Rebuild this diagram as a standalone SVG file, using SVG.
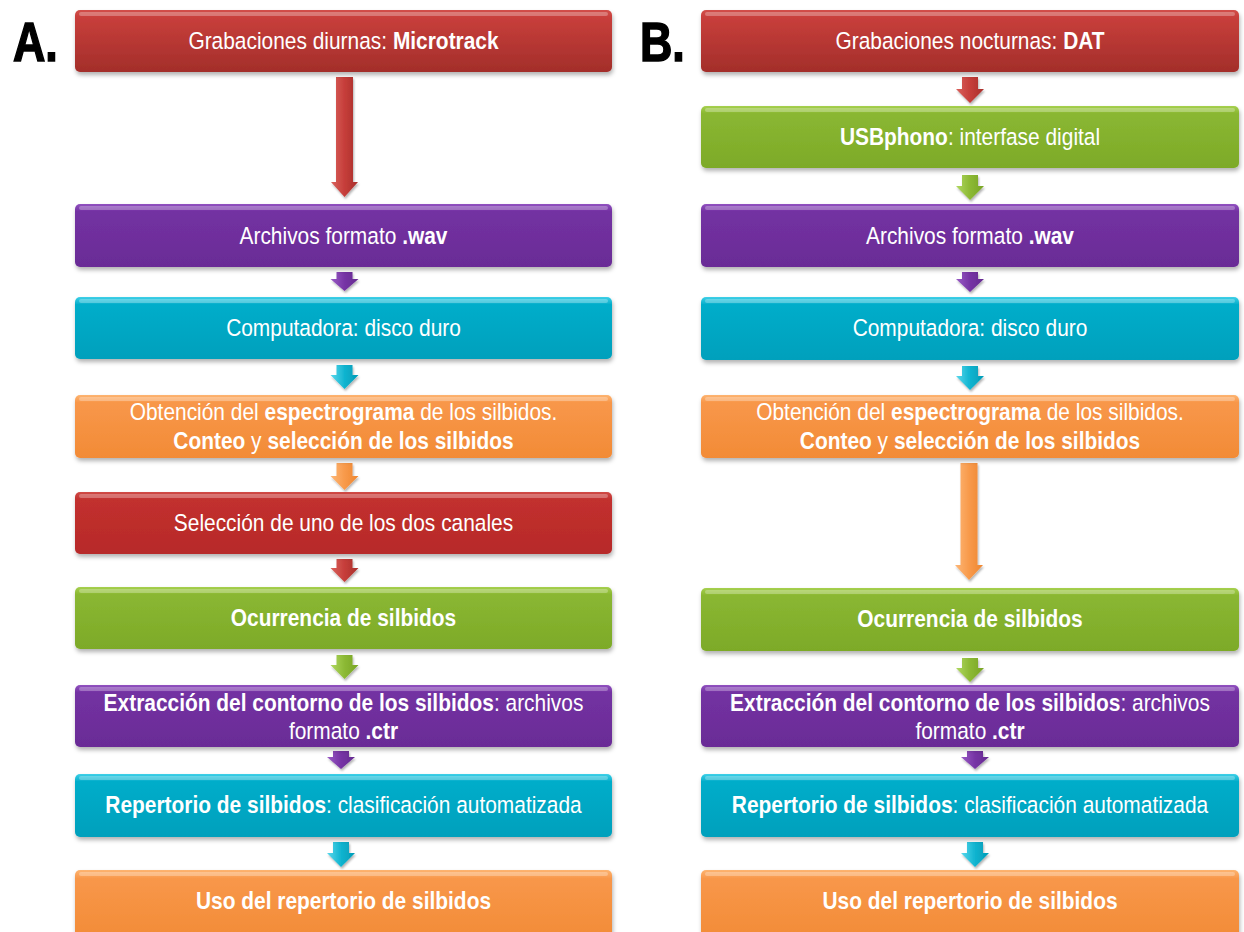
<svg xmlns="http://www.w3.org/2000/svg" width="1244" height="932" viewBox="0 0 1244 932">
<defs>
<style>
.lbl{font-family:"Liberation Sans",Arial,sans-serif;font-size:23.5px;fill:#fff;text-anchor:middle}
.b{font-weight:700}
.hd{font-family:"Liberation Sans",Arial,sans-serif;font-size:56px;font-weight:700;fill:#000;stroke:#000;stroke-width:1.6}
.hl{fill:#fff;fill-opacity:0.28}
.box{filter:url(#sh)}
.arr{filter:url(#ash)}
</style>
<filter id="sh" x="-5%" y="-20%" width="110%" height="150%">
<feDropShadow dx="1" dy="3" stdDeviation="2" flood-color="#000" flood-opacity="0.3"/>
</filter>
<filter id="ash" x="-50%" y="-20%" width="200%" height="150%">
<feDropShadow dx="1" dy="2" stdDeviation="1.2" flood-color="#000" flood-opacity="0.3"/>
</filter>
<linearGradient id="gRed" x1="0" y1="0" x2="0" y2="1">
<stop offset="0" stop-color="#D24F4A"/><stop offset="0.12" stop-color="#C83F3B"/><stop offset="1" stop-color="#A32E2A"/>
</linearGradient>
<linearGradient id="gRed2" x1="0" y1="0" x2="0" y2="1">
<stop offset="0" stop-color="#D04A46"/><stop offset="0.12" stop-color="#C2302E"/><stop offset="1" stop-color="#B72A29"/>
</linearGradient>
<linearGradient id="gPur" x1="0" y1="0" x2="0" y2="1">
<stop offset="0" stop-color="#9152C0"/><stop offset="0.12" stop-color="#7331A2"/><stop offset="1" stop-color="#6A2C96"/>
</linearGradient>
<linearGradient id="gCya" x1="0" y1="0" x2="0" y2="1">
<stop offset="0" stop-color="#3FD0E8"/><stop offset="0.12" stop-color="#04ADCA"/><stop offset="1" stop-color="#00A0BC"/>
</linearGradient>
<linearGradient id="gOra" x1="0" y1="0" x2="0" y2="1">
<stop offset="0" stop-color="#FDB471"/><stop offset="0.12" stop-color="#F8974A"/><stop offset="1" stop-color="#F28B36"/>
</linearGradient>
<linearGradient id="gGre" x1="0" y1="0" x2="0" y2="1">
<stop offset="0" stop-color="#A6D04E"/><stop offset="0.12" stop-color="#8AB732"/><stop offset="1" stop-color="#7DAA28"/>
</linearGradient>
<linearGradient id="aRed" x1="0" y1="0" x2="1" y2="0">
<stop offset="0" stop-color="#D9625D"/><stop offset="0.5" stop-color="#C63E3A"/><stop offset="1" stop-color="#A82F2B"/>
</linearGradient>
<linearGradient id="aPur" x1="0" y1="0" x2="1" y2="0">
<stop offset="0" stop-color="#9A5CC6"/><stop offset="0.5" stop-color="#7634A5"/><stop offset="1" stop-color="#652A90"/>
</linearGradient>
<linearGradient id="aCya" x1="0" y1="0" x2="1" y2="0">
<stop offset="0" stop-color="#5AD8EC"/><stop offset="0.5" stop-color="#10B4D0"/><stop offset="1" stop-color="#009BB6"/>
</linearGradient>
<linearGradient id="aOra" x1="0" y1="0" x2="1" y2="0">
<stop offset="0" stop-color="#FDB777"/><stop offset="0.5" stop-color="#F89A4B"/><stop offset="1" stop-color="#EE8630"/>
</linearGradient>
<linearGradient id="aGre" x1="0" y1="0" x2="1" y2="0">
<stop offset="0" stop-color="#B0D862"/><stop offset="0.5" stop-color="#8CB934"/><stop offset="1" stop-color="#78A425"/>
</linearGradient>
</defs>
<rect width="1244" height="932" fill="#fff"/>

<text class="hd" transform="translate(13,61) scale(0.8,1)">A.</text>
<text class="hd" transform="translate(640,61) scale(0.8,1)">B.</text>

<g id="connectors">
<path class="arr" fill="url(#aRed)" d="M336 77H353V182H358L344.5 197L331 182H336Z"/>
<path class="arr" fill="url(#aPur)" d="M336.5 272H352.5V279H358.5L344.5 291L330.5 279H336.5Z"/>
<path class="arr" fill="url(#aCya)" d="M336.5 365H352.5V375H358.5L344.5 389L330.5 375H336.5Z"/>
<path class="arr" fill="url(#aOra)" d="M336.5 463H352.5V476H358.5L344.5 490L330.5 476H336.5Z"/>
<path class="arr" fill="url(#aRed)" d="M336.5 559H352.5V568H358.5L344.5 582L330.5 568H336.5Z"/>
<path class="arr" fill="url(#aGre)" d="M336.5 655H352.5V665H358.5L344.5 679L330.5 665H336.5Z"/>
<path class="arr" fill="url(#aPur)" d="M333 751H349V757H355L341 769L327 757H333Z"/>
<path class="arr" fill="url(#aCya)" d="M333 842H349V853H355L341 867L327 853H333Z"/>

<path class="arr" fill="url(#aRed)" d="M962 77H978V89H984L970 103L956 89H962Z"/>
<path class="arr" fill="url(#aGre)" d="M962 175H978V186H984L970 200L956 186H962Z"/>
<path class="arr" fill="url(#aPur)" d="M962 272H978V279H984L970 292L956 279H962Z"/>
<path class="arr" fill="url(#aCya)" d="M962 366H978V376H984L970 390L956 376H962Z"/>
<path class="arr" fill="url(#aOra)" d="M960.5 463H977.5V565H983L969 580L955 565H960.5Z"/>
<path class="arr" fill="url(#aGre)" d="M962 658H978V668H984L970 682L956 668H962Z"/>
<path class="arr" fill="url(#aPur)" d="M967 751H983V757H989L975 769L961 757H967Z"/>
<path class="arr" fill="url(#aCya)" d="M967 842H983V853H989L975 867L961 853H967Z"/>
</g>

<!-- Left column -->
<g id="A1">
<rect class="box" x="75" y="10" width="537" height="62" rx="5" fill="url(#gRed)"/>
<rect class="hl" x="79" y="12" width="529" height="4" rx="2"/>
<text class="lbl" transform="translate(343.5,49) scale(0.89,1)">Grabaciones diurnas: <tspan class="b">Microtrack</tspan></text>
</g>
<g id="A2">
<rect class="box" x="75" y="204" width="537" height="63" rx="5" fill="url(#gPur)"/>
<rect class="hl" x="79" y="206" width="529" height="4" rx="2"/>
<text class="lbl" transform="translate(343.5,244) scale(0.89,1)">Archivos formato <tspan class="b">.wav</tspan></text>
</g>
<g id="A3">
<rect class="box" x="75" y="297" width="537" height="62" rx="5" fill="url(#gCya)"/>
<rect class="hl" x="79" y="299" width="529" height="4" rx="2"/>
<text class="lbl" transform="translate(343.5,336) scale(0.89,1)">Computadora: disco duro</text>
</g>
<g id="A4">
<rect class="box" x="75" y="395" width="537" height="63" rx="5" fill="url(#gOra)"/>
<rect class="hl" x="79" y="397" width="529" height="4" rx="2"/>
<text class="lbl" transform="translate(343.5,420) scale(0.89,1)">Obtención del <tspan class="b">espectrograma</tspan> de los silbidos.</text>
<text class="lbl" transform="translate(343.5,449) scale(0.89,1)"><tspan class="b">Conteo</tspan> y <tspan class="b">selección de los silbidos</tspan></text>
</g>
<g id="A5">
<rect class="box" x="75" y="492" width="537" height="62" rx="5" fill="url(#gRed2)"/>
<rect class="hl" x="79" y="494" width="529" height="4" rx="2"/>
<text class="lbl" transform="translate(343.5,531) scale(0.89,1)">Selección de uno de los dos canales</text>
</g>
<g id="A6">
<rect class="box" x="75" y="587" width="537" height="62" rx="5" fill="url(#gGre)"/>
<rect class="hl" x="79" y="589" width="529" height="4" rx="2"/>
<text class="lbl" transform="translate(343.5,626) scale(0.89,1)"><tspan class="b">Ocurrencia de silbidos</tspan></text>
</g>
<g id="A7">
<rect class="box" x="75" y="685" width="537" height="62" rx="5" fill="url(#gPur)"/>
<rect class="hl" x="79" y="687" width="529" height="4" rx="2"/>
<text class="lbl" transform="translate(343.5,711) scale(0.89,1)"><tspan class="b">Extracción del contorno de los silbidos</tspan>: archivos</text>
<text class="lbl" transform="translate(343.5,739) scale(0.89,1)">formato <tspan class="b">.ctr</tspan></text>
</g>
<g id="A8">
<rect class="box" x="75" y="774" width="537" height="63" rx="5" fill="url(#gCya)"/>
<rect class="hl" x="79" y="776" width="529" height="4" rx="2"/>
<text class="lbl" transform="translate(343.5,813) scale(0.89,1)"><tspan class="b">Repertorio de silbidos</tspan>: clasificación automatizada</text>
</g>
<g id="A9">
<rect class="box" x="75" y="870" width="537" height="72" rx="5" fill="url(#gOra)"/>
<rect class="hl" x="79" y="872" width="529" height="4" rx="2"/>
<text class="lbl" transform="translate(343.5,909) scale(0.89,1)"><tspan class="b">Uso del repertorio de silbidos</tspan></text>
</g>

<!-- Right column -->
<g id="B1">
<rect class="box" x="701" y="10" width="538" height="62" rx="5" fill="url(#gRed)"/>
<rect class="hl" x="705" y="12" width="530" height="4" rx="2"/>
<text class="lbl" transform="translate(970,49) scale(0.89,1)">Grabaciones nocturnas: <tspan class="b">DAT</tspan></text>
</g>
<g id="B2">
<rect class="box" x="701" y="106" width="538" height="62" rx="5" fill="url(#gGre)"/>
<rect class="hl" x="705" y="108" width="530" height="4" rx="2"/>
<text class="lbl" transform="translate(970,145) scale(0.89,1)"><tspan class="b">USBphono</tspan>: interfase digital</text>
</g>
<g id="B3">
<rect class="box" x="701" y="204" width="538" height="63" rx="5" fill="url(#gPur)"/>
<rect class="hl" x="705" y="206" width="530" height="4" rx="2"/>
<text class="lbl" transform="translate(970,244) scale(0.89,1)">Archivos formato <tspan class="b">.wav</tspan></text>
</g>
<g id="B4">
<rect class="box" x="701" y="297" width="538" height="63" rx="5" fill="url(#gCya)"/>
<rect class="hl" x="705" y="299" width="530" height="4" rx="2"/>
<text class="lbl" transform="translate(970,336) scale(0.89,1)">Computadora: disco duro</text>
</g>
<g id="B5">
<rect class="box" x="701" y="395" width="538" height="63" rx="5" fill="url(#gOra)"/>
<rect class="hl" x="705" y="397" width="530" height="4" rx="2"/>
<text class="lbl" transform="translate(970,420) scale(0.89,1)">Obtención del <tspan class="b">espectrograma</tspan> de los silbidos.</text>
<text class="lbl" transform="translate(970,449) scale(0.89,1)"><tspan class="b">Conteo</tspan> y <tspan class="b">selección de los silbidos</tspan></text>
</g>
<g id="B6">
<rect class="box" x="701" y="588" width="538" height="63" rx="5" fill="url(#gGre)"/>
<rect class="hl" x="705" y="590" width="530" height="4" rx="2"/>
<text class="lbl" transform="translate(970,627) scale(0.89,1)"><tspan class="b">Ocurrencia de silbidos</tspan></text>
</g>
<g id="B7">
<rect class="box" x="701" y="685" width="538" height="62" rx="5" fill="url(#gPur)"/>
<rect class="hl" x="705" y="687" width="530" height="4" rx="2"/>
<text class="lbl" transform="translate(970,711) scale(0.89,1)"><tspan class="b">Extracción del contorno de los silbidos</tspan>: archivos</text>
<text class="lbl" transform="translate(970,739) scale(0.89,1)">formato <tspan class="b">.ctr</tspan></text>
</g>
<g id="B8">
<rect class="box" x="701" y="774" width="538" height="63" rx="5" fill="url(#gCya)"/>
<rect class="hl" x="705" y="776" width="530" height="4" rx="2"/>
<text class="lbl" transform="translate(970,813) scale(0.89,1)"><tspan class="b">Repertorio de silbidos</tspan>: clasificación automatizada</text>
</g>
<g id="B9">
<rect class="box" x="701" y="870" width="538" height="72" rx="5" fill="url(#gOra)"/>
<rect class="hl" x="705" y="872" width="530" height="4" rx="2"/>
<text class="lbl" transform="translate(970,909) scale(0.89,1)"><tspan class="b">Uso del repertorio de silbidos</tspan></text>
</g>
</svg>
